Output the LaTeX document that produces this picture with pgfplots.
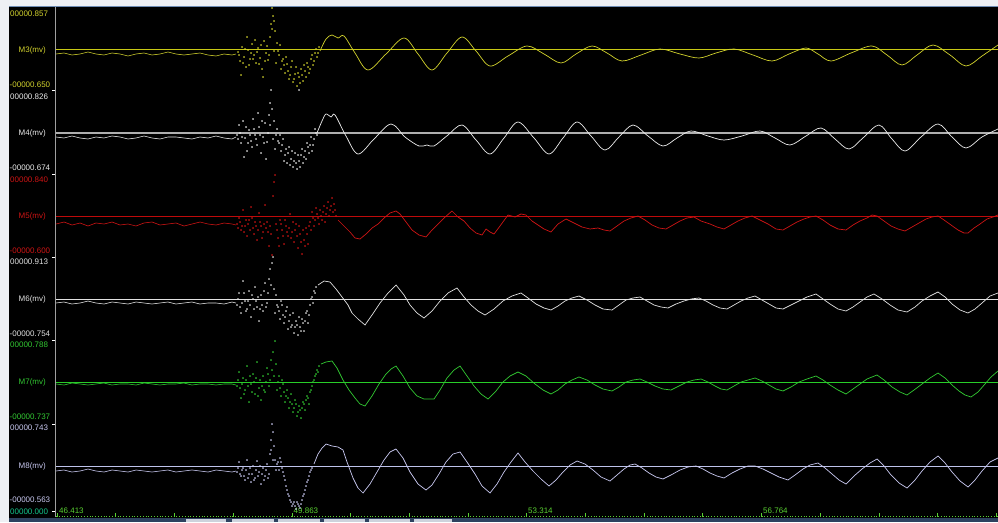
\documentclass[border=0pt]{standalone}
\usepackage{pgfplots}
\pgfplotsset{compat=1.18}
\usepackage{fontspec}
\setmainfont{Liberation Sans}
\definecolor{m3}{RGB}{210,210,45}
\definecolor{m3l}{RGB}{200,200,20}
\definecolor{m4}{RGB}{235,235,235}
\definecolor{m4l}{RGB}{175,175,175}
\definecolor{m5}{RGB}{205,20,20}
\definecolor{m5l}{RGB}{190,10,10}
\definecolor{m6}{RGB}{225,225,225}
\definecolor{m6l}{RGB}{225,225,225}
\definecolor{m7}{RGB}{50,200,50}
\definecolor{m7l}{RGB}{40,205,40}
\definecolor{m8}{RGB}{200,200,240}
\definecolor{m8l}{RGB}{190,195,235}
\definecolor{zerolab}{RGB}{20,200,140}
\definecolor{ticklab}{RGB}{90,210,50}
\definecolor{framec}{RGB}{238,240,244}
\definecolor{frameline}{RGB}{110,140,180}
\definecolor{barc}{RGB}{45,65,95}
\definecolor{btn}{RGB}{205,210,220}
\newcommand{\lab}{\fontsize{8}{9}\selectfont}
\pgfplotsset{
  ch/.style={y filter/.expression={y+#1}},
  wave/.style={line width=0.7pt, smooth, tension=0.55},
  base/.style={line width=0.6pt},
  dots/.style={only marks, mark=*, mark size=0.5pt},
}
\begin{document}
\begin{tikzpicture}
\useasboundingbox (0,0) rectangle (998pt,522pt);
\begin{axis}[at={(0,0)}, anchor=south west, scale only axis,
  width=998pt, height=522pt, xmin=0, xmax=998, ymin=0, ymax=522,
  y dir=reverse, hide axis, clip=false]
% backgrounds
\fill[black] (0,0) rectangle (998,522);
\fill[framec] (0,0) rectangle (998,5.5);
\draw[frameline, line width=1pt] (9,6) -- (998,6);
\fill[framec] (0,0) rectangle (9,522);
\fill[barc] (9,517.5) rectangle (998,522);
\fill[btn] (186,518.5) rectangle (226,522);
\fill[btn] (232,518.5) rectangle (274,522);
\fill[btn] (278,518.5) rectangle (320,522);
\fill[btn] (324,518.5) rectangle (365,522);
\fill[btn] (369,518.5) rectangle (410,522);
\fill[btn] (414,518.5) rectangle (452,522);
% vertical axis line and small ticks
\draw[gray!75!white, line width=1pt] (55,7) -- (55,517);
\pgfplotsinvokeforeach{90,174,257,340,424,511}{ \draw[white, line width=0.8pt] (52,#1) -- (55,#1); }
% bottom axis
\draw[ticklab, dotted, line width=0.8pt] (56,516.5) -- (998,516.5);
\pgfplotsinvokeforeach{57,115.7,174.4,233.1,291.8,350.5,409.2,467.9,526.6,585.3,644,702.7,761.4,820.1,878.8,937.5,996.2}{ \draw[ticklab, line width=0.6pt] (#1,513) -- (#1,516.5); }
\node[anchor=west, text=ticklab, font=\lab, inner sep=0] at (59,511) {46.413};
\node[anchor=west, text=ticklab, font=\lab, inner sep=0] at (293.5,511) {49.863};
\node[anchor=west, text=ticklab, font=\lab, inner sep=0] at (528,511) {53.314};
\node[anchor=west, text=ticklab, font=\lab, inner sep=0] at (763,511) {56.764};
\node[anchor=west, text=zerolab, font=\lab, inner sep=0] at (10,511.5) {00000.000};
% channel labels
\node[anchor=west, text=m3, font=\lab, inner sep=0] at (10,14) {00000.857};
\node[anchor=east, text=m3, font=\lab, inner sep=0] at (46,50) {M3(mv)};
\node[anchor=west, text=m3, font=\lab, inner sep=0] at (9.5,85) {-00000.650};
\node[anchor=west, text=m4, font=\lab, inner sep=0] at (10,97) {00000.826};
\node[anchor=east, text=m4, font=\lab, inner sep=0] at (46,133) {M4(mv)};
\node[anchor=west, text=m4, font=\lab, inner sep=0] at (9.5,168) {-00000.674};
\node[anchor=west, text=m5, font=\lab, inner sep=0] at (10,179.5) {00000.840};
\node[anchor=east, text=m5, font=\lab, inner sep=0] at (46,216) {M5(mv)};
\node[anchor=west, text=m5, font=\lab, inner sep=0] at (9.5,250.5) {-00000.600};
\node[anchor=west, text=m6, font=\lab, inner sep=0] at (10,261.5) {00000.913};
\node[anchor=east, text=m6, font=\lab, inner sep=0] at (46,299) {M6(mv)};
\node[anchor=west, text=m6, font=\lab, inner sep=0] at (9.5,334) {-00000.754};
\node[anchor=west, text=m7, font=\lab, inner sep=0] at (10,345) {00000.788};
\node[anchor=east, text=m7, font=\lab, inner sep=0] at (46,382) {M7(mv)};
\node[anchor=west, text=m7, font=\lab, inner sep=0] at (9.5,417) {-00000.737};
\node[anchor=west, text=m8, font=\lab, inner sep=0] at (10,428) {00000.743};
\node[anchor=east, text=m8, font=\lab, inner sep=0] at (46,466) {M8(mv)};
\node[anchor=west, text=m8, font=\lab, inner sep=0] at (9.5,500) {-00000.563};
% reference lines
\draw[m3l, line width=1pt] (56,49) -- (998,49);
\draw[m4l, line width=1.2pt] (56,133) -- (998,133);
\draw[m5l, line width=1pt] (56,216) -- (998,216);
\draw[m6l, line width=1pt] (56,299) -- (998,299);
\draw[m7l, line width=1pt] (56,382) -- (998,382);
\draw[m8l, line width=1pt] (56,466) -- (998,466);
% ---------------- M3 ----------------
\addplot[m3, base, ch=49] coordinates {(56,5)(64,4)(72,6)(80,5)(88,3)(96,5)(104,6)(112,4)(120,5)(128,7)(136,5)(144,4)(152,6)(160,5)(168,3)(176,5)(184,6)(192,5)(200,4)(208,6)(216,7)(224,5)(232,6)(236,5)};
\addplot[m3, dots, ch=49] coordinates {(238,3)(240,12)(242,-2)(244,8)(246,18)(248,1)(250,10)(252,-5)(254,6)(256,14)(258,-1)(260,9)(262,20)(264,-8)(266,4)(268,11)(270,-12)(271,-25)(272,-41)(273,-33)(274,2)(275,-18)(276,14)(277,-6)(279,6)(281,20)(283,10)(285,24)(287,15)(289,30)(291,18)(293,33)(295,25)(297,37)(299,28)(301,20)(303,32)(305,22)(307,14)(309,24)(311,10)(313,16)(315,4)(317,8)(319,-2)(241,26)(255,-9)(263,28)(247,-12)(280,-4)
(239,6)(243,14)(245,0)(249,16)(251,4)(253,10)(257,3)(259,15)(261,-4)(265,12)(267,-3)(269,6)(272,-20)(274,-28)(278,2)(282,12)(284,16)(286,8)(288,22)(290,26)(292,12)(294,30)(296,18)(298,24)(300,34)(302,26)(304,16)(306,28)(308,18)(310,20)(312,6)(314,12)(316,0)(318,4)};
\addplot[m3, wave, ch=49] coordinates {(320,2)(326,-10)(332,-14)(338,-11)(344,-13)(355,4)(368,21)(386,5)(404,-11)(418,5)(432,21)(447,4)(462,-12)(476,2)(490,17)(508,7)(527,-3)(544,5)(561,14)(576,5)(592,-3)(607,4)(622,12)(641,6)(660,0)(680,5)(699,9)(716,4)(734,0)(753,6)(772,12)(789,5)(806,-1)(818,5)(831,12)(851,4)(872,-3)(887,6)(902,16)(917,6)(933,-4)(950,6)(966,17)(982,7)(998,-4)};
% ---------------- M4 ----------------
\addplot[m4, base, ch=133] coordinates {(56,4)(64,5)(72,3)(80,5)(88,6)(96,4)(104,5)(112,3)(120,4)(128,6)(136,5)(144,3)(152,5)(160,6)(168,4)(176,4)(184,5)(192,6)(200,4)(208,5)(216,3)(224,5)(232,6)(236,4)};
\addplot[m4, dots, ch=133] coordinates {(237,2)(239,-8)(241,10)(243,-12)(245,5)(247,18)(249,-3)(251,8)(253,-14)(255,2)(257,12)(259,-6)(261,20)(263,4)(265,-10)(267,9)(269,-18)(270,-30)(271,-43)(272,-24)(273,6)(274,-12)(275,16)(277,-4)(279,10)(281,18)(283,6)(285,22)(287,30)(289,14)(291,26)(293,34)(295,20)(297,36)(299,-43)(299,28)(301,22)(303,30)(305,18)(307,10)(309,20)(311,4)(313,12)(315,-4)(317,2)(244,24)(258,-20)(266,26)
(238,6)(240,0)(242,4)(246,-6)(248,10)(250,2)(252,14)(254,-4)(256,6)(260,2)(262,-12)(264,10)(268,0)(270,-8)(276,2)(278,8)(280,2)(282,12)(284,28)(286,16)(288,20)(290,32)(292,18)(294,28)(296,30)(298,22)(300,34)(302,16)(304,24)(306,26)(308,14)(310,12)(312,18)(314,6)(316,0)};
\addplot[m4, wave, ch=133] coordinates {(317,0)(322,-12)(326,-19)(331,-16)(335,-18)(346,3)(358,21)(374,6)(391,-9)(405,4)(419,13)(427,12)(434,13)(448,2)(462,-8)(476,7)(490,21)(504,5)(518,-11)(534,5)(549,21)(563,5)(577,-11)(591,3)(605,17)(619,4)(633,-8)(648,3)(663,13)(677,5)(691,-2)(708,3)(724,7)(742,3)(760,-2)(775,5)(790,12)(806,3)(821,-5)(835,6)(849,16)(864,4)(879,-8)(892,6)(905,18)(921,4)(938,-9)(952,4)(966,15)(982,4)(998,-4)};
% ---------------- M5 ----------------
\addplot[m5, base, ch=216] coordinates {(56,8)(64,6)(72,9)(80,7)(88,10)(96,7)(104,8)(112,6)(120,9)(128,8)(136,10)(144,7)(152,6)(160,9)(168,8)(176,7)(184,10)(192,8)(200,6)(208,8)(216,9)(224,7)(232,8)(236,9)};
\addplot[m5, dots, ch=216] coordinates {(237,8)(239,2)(241,14)(243,-6)(245,10)(247,20)(249,4)(251,-9)(253,12)(255,6)(257,24)(259,-3)(261,10)(263,16)(265,-11)(267,6)(269,30)(271,18)(272,39)(273,-20)(274,-34)(275,-41)(276,8)(278,22)(280,4)(282,14)(284,28)(286,10)(288,20)(290,-2)(292,16)(294,26)(296,8)(298,32)(300,18)(302,38)(304,24)(306,12)(308,28)(310,6)(312,-4)(314,10)(316,-8)(318,2)(320,-6)(322,4)(324,-10)(326,-2)(328,-14)(330,-6)(332,-18)(334,-12)(336,0)
(238,12)(240,6)(242,10)(244,16)(246,4)(248,8)(250,14)(252,2)(254,18)(256,10)(258,14)(260,6)(262,22)(264,8)(266,12)(268,16)(270,10)(277,14)(279,30)(281,8)(283,20)(285,4)(287,16)(289,12)(291,22)(293,6)(295,14)(297,20)(299,10)(301,26)(303,14)(305,30)(307,18)(309,10)(311,14)(313,2)(315,4)(317,-2)(319,8)(321,0)(323,-4)(325,6)(327,-8)(329,0)(331,-10)(333,-4)(335,-6)};
\addplot[m5, line width=0.7pt, ch=216] coordinates {(338,4)(344,10)(350,16)(355,22)(360,23)(366,18)(372,12)(378,8)(384,2)(390,-3)(396,-5)(400,-2)(406,6)(412,14)(419,19)(426,21)(432,14)(438,8)(444,2)(452,-5)(458,1)(464,5)(470,12)(476,17)(482,19)(486,13)(490,16)(494,18)(500,10)(508,-1)(515,1)(521,-2)(526,-1)(532,5)(538,9)(544,13)(551,16)(558,8)(566,3)(574,7)(582,11)(590,13)(598,12)(604,14)(610,15)(617,10)(624,5)(631,2)(638,0)(645,4)(652,9)(659,12)(666,13)(673,9)(680,5)(687,2)(694,1)(701,5)(710,8)(717,11)(724,13)(731,9)(738,5)(745,2)(752,0)(760,4)(768,8)(776,13)(783,14)(790,10)(797,6)(804,3)(810,1)(816,0)(823,4)(830,9)(838,13)(846,14)(853,9)(860,5)(867,2)(872,-1)(877,0)(884,5)(891,10)(898,13)(905,15)(912,11)(919,7)(926,3)(932,1)(938,0)(944,4)(951,9)(958,14)(964,17)(968,17)(974,12)(980,8)(987,3)(993,1)(998,-1)};
% ---------------- M6 ----------------
\addplot[m6, base, ch=299] coordinates {(56,4)(64,3)(72,5)(80,4)(88,2)(96,4)(104,5)(112,3)(120,4)(128,5)(136,3)(144,4)(152,5)(160,4)(168,3)(176,5)(184,4)(192,3)(200,5)(208,4)(216,4)(224,5)(232,3)(236,4)};
\addplot[m6, dots, ch=299] coordinates {(237,6)(239,-6)(241,14)(243,-18)(245,2)(247,10)(249,-8)(251,18)(253,0)(255,-12)(257,8)(259,22)(261,-4)(263,12)(265,-16)(267,4)(269,-20)(270,-30)(272,-36)(273,-42)(274,-10)(275,14)(276,-4)(278,8)(280,20)(282,6)(284,24)(286,12)(288,30)(290,16)(292,26)(294,34)(296,22)(298,36)(300,28)(302,20)(304,32)(306,14)(308,24)(310,6)(312,-2)(314,-8)(316,-12)
(238,0)(240,8)(242,4)(244,-6)(246,12)(248,2)(250,6)(252,-4)(254,10)(256,2)(258,-2)(260,10)(262,6)(264,-8)(266,8)(268,-6)(271,-14)(277,6)(279,12)(281,2)(283,16)(285,18)(287,8)(289,22)(291,28)(293,14)(295,28)(297,26)(299,18)(301,32)(303,24)(305,22)(307,12)(309,16)(311,0)(313,4)(315,-6)};
\addplot[m6, line width=0.7pt, ch=299] coordinates {(318,-14)(324,-18)(330,-17)(336,-10)(342,-2)(348,6)(352,14)(358,20)(365,26)(372,16)(380,4)(388,-6)(396,-14)(404,-4)(410,6)(417,14)(424,19)(432,12)(440,2)(448,-6)(457,-11)(464,-2)(471,6)(478,12)(485,16)(494,10)(503,2)(512,-3)(521,-6)(528,-1)(536,5)(544,9)(551,11)(558,7)(565,2)(572,-1)(579,-3)(587,1)(595,6)(603,10)(612,11)(619,6)(626,1)(633,-1)(640,-2)(647,2)(654,6)(661,8)(668,9)(676,5)(684,2)(691,0)(699,-1)(706,2)(713,6)(720,9)(727,10)(734,6)(741,2)(748,-1)(755,-3)(762,1)(769,5)(776,9)(783,10)(791,6)(799,2)(807,-2)(816,-5)(823,0)(830,5)(838,10)(846,12)(853,8)(860,3)(867,-2)(874,-5)(882,0)(890,6)(898,11)(907,13)(915,8)(922,2)(930,-3)(938,-7)(945,-2)(952,5)(960,11)(968,14)(975,10)(982,4)(990,-3)(998,-6)};
% ---------------- M7 ----------------
\addplot[m7, base, ch=382] coordinates {(56,2)(64,3)(72,1)(80,2)(88,3)(96,2)(104,1)(112,3)(120,2)(128,2)(136,3)(144,1)(152,2)(160,3)(168,2)(176,2)(184,1)(192,3)(200,2)(208,2)(216,3)(224,2)(232,2)(236,3)};
\addplot[m7, dots, ch=382] coordinates {(237,4)(239,-10)(241,16)(243,-4)(245,8)(247,-16)(249,20)(251,2)(253,-8)(255,12)(257,-20)(259,6)(261,18)(263,-6)(265,10)(267,-14)(269,4)(271,-22)(273,-30)(275,-41)(276,-18)(277,8)(279,-6)(281,14)(283,2)(285,20)(287,8)(289,26)(291,12)(293,30)(295,18)(297,34)(299,24)(301,36)(303,20)(305,28)(307,14)(309,22)(311,8)(313,0)(315,-6)(317,-12)(319,-16)
(238,-2)(240,6)(242,2)(244,12)(246,-2)(248,4)(250,-6)(252,10)(254,0)(256,-4)(258,14)(260,-2)(262,4)(264,8)(266,0)(268,-8)(270,-2)(272,-12)(274,-6)(278,0)(280,6)(282,-2)(284,10)(286,14)(288,16)(290,20)(292,22)(294,26)(296,22)(298,30)(300,28)(302,26)(304,22)(306,18)(308,16)(310,10)(312,4)(314,-2)(316,-8)(318,-10)};
\addplot[m7, line width=0.7pt, ch=382] coordinates {(321,-18)(326,-20)(332,-21)(337,-14)(343,-2)(349,8)(355,16)(360,22)(365,24)(372,14)(379,2)(386,-8)(391,-13)(396,-16)(403,-6)(410,6)(417,14)(424,17)(430,17)(434,17)(440,8)(447,-4)(454,-12)(460,-16)(467,-6)(474,4)(481,12)(488,17)(496,9)(503,0)(510,-6)(518,-10)(526,-6)(535,2)(543,8)(551,12)(558,8)(565,2)(572,-2)(579,-5)(587,-2)(595,3)(603,7)(612,9)(619,5)(626,0)(633,-2)(640,-3)(647,0)(655,4)(663,7)(671,8)(679,4)(687,0)(694,-2)(701,-3)(708,0)(715,4)(721,7)(727,8)(734,4)(741,0)(748,-2)(755,-4)(762,-1)(769,3)(776,7)(783,9)(791,5)(799,0)(807,-3)(816,-6)(823,-2)(830,3)(838,8)(846,12)(853,7)(860,2)(867,-3)(877,-7)(884,-2)(892,5)(900,10)(907,13)(914,8)(922,2)(930,-4)(938,-9)(945,-4)(952,3)(959,9)(965,13)(971,15)(978,10)(985,2)(991,-5)(998,-11)};
% ---------------- M8 ----------------
\addplot[m8, base, ch=466] coordinates {(56,5)(64,4)(72,6)(80,5)(88,3)(96,5)(104,6)(112,4)(120,5)(128,6)(136,4)(144,5)(152,6)(160,5)(168,4)(176,6)(184,5)(192,4)(200,5)(208,6)(216,4)(224,5)(232,6)(236,5)};
\addplot[m8, dots, ch=466] coordinates {(237,6)(239,-4)(241,10)(243,2)(245,14)(247,-6)(249,8)(251,16)(253,0)(255,12)(257,-5)(259,6)(261,18)(263,2)(265,10)(267,-2)(269,8)(270,-12)(271,-26)(272,-42)(273,-34)(274,-20)(275,-6)(276,4)(278,-4)(280,-8)(282,2)(284,10)(286,20)(288,28)(290,34)(292,40)(294,36)(296,43)(298,38)(300,42)(302,34)(304,28)(306,20)(308,14)(310,6)(312,2)
(238,2)(240,8)(242,4)(244,10)(246,4)(248,12)(250,2)(252,8)(254,14)(256,4)(258,10)(260,0)(262,8)(264,14)(266,4)(268,12)(271,-16)(273,-6)(277,-2)(279,4)(281,-4)(283,6)(285,14)(287,24)(289,30)(291,36)(293,38)(295,40)(297,36)(299,40)(301,38)(303,30)(305,24)(307,16)(309,10)(311,4)};
\addplot[m8, line width=0.7pt, ch=466] coordinates {(314,-2)(318,-12)(322,-18)(326,-22)(332,-20)(338,-19)(343,-16)(347,-4)(353,12)(358,22)(363,27)(370,18)(377,6)(384,-6)(390,-14)(396,-17)(403,-8)(410,6)(418,18)(426,24)(432,19)(439,8)(446,-4)(453,-12)(460,-14)(467,-4)(475,8)(482,20)(490,27)(497,18)(504,6)(511,-4)(518,-13)(525,-4)(533,5)(541,13)(549,20)(556,14)(563,6)(570,-1)(577,-5)(585,-2)(593,4)(601,11)(610,15)(617,9)(624,3)(630,-1)(635,-2)(642,2)(649,7)(656,11)(663,13)(671,9)(680,4)(688,1)(696,0)(703,3)(710,7)(717,10)(724,12)(732,7)(740,3)(748,0)(755,0)(763,3)(771,7)(779,11)(788,14)(795,9)(803,3)(810,-1)(818,-3)(825,2)(832,8)(839,14)(846,18)(854,10)(862,3)(870,-3)(877,-7)(884,0)(891,9)(899,17)(907,22)(915,14)(922,5)(930,-4)(938,-10)(945,-3)(952,6)(960,15)(968,21)(975,14)(982,5)(990,-4)(998,-8)};
\end{axis}
\end{tikzpicture}
\end{document}
